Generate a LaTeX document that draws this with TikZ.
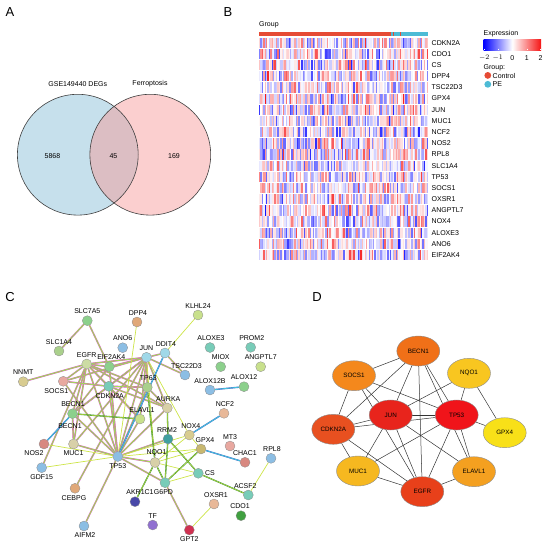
\documentclass[tikz,border=0pt]{standalone}
\usepackage{fontspec}
\setmainfont{Liberation Sans}
\usetikzlibrary{shapes.geometric,backgrounds}
% venn
\definecolor{vennblue}{RGB}{198,224,236}
\definecolor{vennpink}{RGB}{251,207,207}
\definecolor{vennmix}{RGB}{220,190,195}
% heatmap
\definecolor{hmblue}{RGB}{0,0,255}
\definecolor{hmred}{RGB}{245,20,20}
\definecolor{ctrlred}{RGB}{230,75,53}
\definecolor{peteal}{RGB}{77,187,213}
% string edges
\definecolor{strMagenta}{RGB}{214,80,214}
\definecolor{strGreen}{RGB}{110,200,110}
\definecolor{strYellow}{RGB}{205,228,70}
\definecolor{strCyan}{RGB}{64,200,220}
\definecolor{strBlue}{RGB}{80,96,200}
\definecolor{strDGreen}{RGB}{48,140,48}
% string nodes
\definecolor{cGreen}{RGB}{140,208,140}
\definecolor{cLGreen}{RGB}{170,208,140}
\definecolor{cTan}{RGB}{224,168,120}
\definecolor{cYGreen}{RGB}{200,224,140}
\definecolor{cLBlue}{RGB}{140,190,228}
\definecolor{cCyan}{RGB}{160,216,232}
\definecolor{cTeal}{RGB}{120,204,184}
\definecolor{cPale}{RGB}{204,220,164}
\definecolor{cKhaki}{RGB}{216,204,144}
\definecolor{cPink}{RGB}{232,168,160}
\definecolor{cBeige}{RGB}{216,208,168}
\definecolor{cSalmon}{RGB}{216,136,128}
\definecolor{cOlive}{RGB}{200,184,112}
\definecolor{cDTeal}{RGB}{64,160,160}
\definecolor{cNavy}{RGB}{72,72,168}
\definecolor{cDGreen}{RGB}{64,160,64}
\definecolor{cPurple}{RGB}{144,112,208}
\definecolor{cRed}{RGB}{208,48,80}
\definecolor{cPeach}{RGB}{232,184,152}
% hubs
\definecolor{dJUN}{RGB}{232,36,28}
\definecolor{dTP53}{RGB}{240,20,26}
\definecolor{dEGFR}{RGB}{232,64,26}
\definecolor{dCDKN2A}{RGB}{232,80,32}
\definecolor{dBECN1}{RGB}{240,112,24}
\definecolor{dSOCS1}{RGB}{244,136,28}
\definecolor{dELAVL1}{RGB}{244,160,32}
\definecolor{dMUC1}{RGB}{246,184,32}
\definecolor{dNQO1}{RGB}{248,198,32}
\definecolor{dGPX4}{RGB}{248,224,24}
\newcommand{\labelfont}{\fontsize{7}{8}\selectfont}
\newcommand{\panelfont}{\fontsize{13}{13}\selectfont}
\newcommand{\hmleft}{259}
\newcommand{\hmtop}{37.6}
\newcommand{\cellw}{1.4083}
\newcommand{\cellh}{11.18}
\newcommand{\vennr}{60.4}
\tikzset{
    panel/.style={font=\panelfont, inner sep=0pt},
    venntext/.style={font=\labelfont, inner sep=0pt},
    vennline/.style={draw=black!75, line width=0.6pt},
    gene/.style={anchor=west, font=\labelfont, inner sep=0pt},
    legtext/.style={anchor=west, font=\labelfont, inner sep=0pt},
    dot/.style={circle, fill=#1, minimum size=6.8pt, inner sep=0pt},
    prot/.style={circle, draw=black!45, line width=0.3pt, minimum size=10pt, inner sep=0pt, fill=#1},
    plabel/.style={font=\labelfont, inner sep=0.5pt},
    ppi/.style={draw=strMagenta, line width=1.6pt,
        postaction={draw=strYellow, line width=0.9pt},
        postaction={draw=strGreen, line width=0.3pt}},
    txtm/.style={draw=strYellow, line width=0.7pt},
    coex/.style={draw=strDGreen, line width=1.3pt, postaction={draw=strYellow, line width=0.5pt}},
    bind/.style={draw=strBlue, line width=1.4pt, postaction={draw=strCyan, line width=0.8pt}},
    hub/.style={ellipse, draw=black!45, line width=0.4pt, minimum width=43pt, minimum height=30pt,
        inner sep=0pt, fill=#1, font=\fontsize{6.3}{7}\selectfont},
    link/.style={draw=black!80, line width=0.5pt}
}

\begin{document}
\begin{tikzpicture}[x=1pt, y=-1pt, label distance=1pt, every label/.style={plabel}]
    \useasboundingbox (0,0) rectangle (548,550);
    % panel letters
    \node[panel] (pA) at (10,12) {A};
    \node[panel] (pB) at (228,12) {B};
    \node[panel] (pC) at (10,297) {C};
    \node[panel] (pD) at (317,297) {D};

    % A: venn
    \fill[vennblue] (77.8,154.7) circle[radius=\vennr];
    \fill[vennpink] (150.3,154.7) circle[radius=\vennr];
    \begin{scope}
        \clip (77.8,154.7) circle[radius=\vennr];
        \fill[vennmix] (150.3,154.7) circle[radius=\vennr];
    \end{scope}
    \draw[vennline] (77.8,154.7) circle[radius=\vennr];
    \draw[vennline] (150.3,154.7) circle[radius=\vennr];
    \node[venntext] (setDEG) at (77.8,84) {GSE149440 DEGs};
    \node[venntext] (setFer) at (150,84) {Ferroptosis};
    \node[venntext] (nDEG) at (52.5,156) {5868};
    \node[venntext] (nBoth) at (113.5,156) {45};
    \node[venntext] (nFer) at (174,156) {169};

    % B: heatmap
    \pgfmathsetseed{4271}
    \node[legtext] (grp) at (259,25) {Group};
    \fill[ctrlred] (\hmleft,32) rectangle (428,36.3);
    \fill[peteal] (389.5,32) rectangle (428,36.3);
    \foreach \c in {93,95,100} {
        \fill[ctrlred] (\hmleft+\c*\cellw,32) rectangle ++(\cellw,4.3);
    }
    \foreach \gene [count=\r from 0] in {CDKN2A,CDO1,CS,DPP4,TSC22D3,GPX4,JUN,MUC1,NCF2,NOS2,RPL8,SLC1A4,TP53,SOCS1,OXSR1,ANGPTL7,NOX4,ALOXE3,ANO6,EIF2AK4} {
        \node[gene] (hm-\gene) at (431.5,\hmtop+\r*\cellh+0.45*\cellh) {\gene};
        \foreach \c in {0,...,119} {
            \pgfmathsetmacro{\val}{max(-1,min(1,(rnd+rnd+rnd-1.5)/1.45))}
            \pgfmathtruncatemacro{\pct}{abs(\val)*100}
            \ifdim\val pt<0pt \colorlet{cellcol}{hmblue!\pct!white}\else\colorlet{cellcol}{hmred!\pct!white}\fi
            \fill[cellcol] (\hmleft+\c*\cellw,\hmtop+\r*\cellh) rectangle ++(\cellw,\cellh-0.9);
        }
    }
    % legend
    \node[legtext] (legExp) at (483.5,34) {Expression};
    \shade[left color=hmblue, right color=hmred, middle color=white] (483.5,39.3) rectangle (541,50);
    \foreach \v/\x in {$-2$/484.3,$-1$/497.7,0/512.2,1/526.7,2/540.5} {
        \draw[white, line width=0.4pt] (\x,48.6) -- (\x,50);
        \node[venntext] at (\x,57.7) {\v};
    }
    \node[legtext] (legGrp) at (483.5,67.5) {Group:};
    \node[dot=ctrlred] (legCtrl) at (487.8,75.4) {};
    \node[legtext] at (492.5,75.6) {Control};
    \node[dot=peteal] (legPE) at (487.8,84.3) {};
    \node[legtext] at (492.5,84.5) {PE};

    % C: string network
    \foreach \n/\x/\y/\col/\pos/\dx in {
        SLC7A5/87.3/320.7/cGreen/above/0, SLC1A4/59/351/cLGreen/above/0,
        DPP4/137/322/cTan/above/1, KLHL24/198/315/cYGreen/above/0,
        ANO6/122.7/347.7/cLBlue/above/0, EGFR/86.7/364/cPale/above/0,
        EIF2AK4/109.3/366.7/cGreen/above/2, JUN/146.5/357.3/cCyan/above/0,
        DDIT4/165/353/cCyan/above/1, TSC22D3/185/375/cLBlue/above/1.5,
        ALOXE3/210/347.5/cTeal/above/1, PROM2/250.7/347.3/cTeal/above/1,
        MIOX/220.7/366.7/cGreen/above/0, ANGPTL7/260.7/366.7/cYGreen/above/0,
        ALOX12B/210/390/cLBlue/above/0, ALOX12/244/386.7/cGreen/above/0,
        NCF2/224/413.3/cPeach/above/1, NNMT/23.3/381.7/cKhaki/above/0,
        SOCS1/63.3/381.3/cPink/below/-7, CDKN2A/108.7/386.3/cTeal/below/1,
        TP63/147.3/387.3/cLGreen/above/1, BECN1/72.5/413.7/cGreen/above/0.5,
        AURKA/167.3/408/cBeige/above/1, ELAVL1/140/419/cYGreen/above/2,
        RRM2/168/439/cDTeal/above/-1, NOX4/189.3/435/cKhaki/above/1.5,
        GPX4/201/449/cOlive/above/4, MT3/230/446/cPink/above/0,
        CHAC1/245/462.3/cSalmon/above/0, RPL8/271/458.3/cLBlue/above/1,
        NOS2/44/444/cSalmon/below/-10, MUC1/73.5/444/cBeige/below/0,
        TP53/117.8/456.5/cLBlue/below/0, NQO1/155/462.5/cBeige/above/1.5,
        CS/198.3/473.3/cTeal/right/0, G6PD/165/482.7/cTeal/below/-1.5,
        GDF15/41.7/467.7/cLBlue/below/0, CEBPG/75/488.3/cTan/below/-1,
        AKR1C1/135/501.7/cNavy/above/5, ACSF2/248.3/495/cTeal/above/-3,
        OXSR1/214/504/cPeach/above/2, CDO1/241/515.7/cDGreen/above/-1,
        TF/152.7/525/cPurple/above/0, GPT2/189.3/530/cRed/below/0,
        AIFM2/84/526/cLBlue/below/1} {
        \node[prot=\col, label={[xshift=\dx pt]\pos:\n}] (c-\n) at (\x,\y) {};
    }
    \node[plabel] (c-BECN1b) at (70,426) {BECN1};
    \begin{pgfonlayer}{background}
        \foreach \a/\b in {SLC7A5/SLC1A4, SLC7A5/EIF2AK4, EGFR/EIF2AK4, EGFR/NNMT, EGFR/SOCS1,
            EGFR/BECN1, EGFR/CDKN2A, EGFR/JUN, EGFR/TP53, EGFR/MUC1, EGFR/TP63, EGFR/AURKA,
            EGFR/ELAVL1, EGFR/GDF15, EIF2AK4/JUN, EIF2AK4/TP53, EIF2AK4/BECN1, JUN/SOCS1,
            JUN/CDKN2A, JUN/BECN1, JUN/TP53, JUN/MUC1, JUN/TP63, JUN/ELAVL1, JUN/TSC22D3,
            JUN/CEBPG, JUN/DDIT4, JUN/AURKA, DDIT4/TSC22D3, TP53/CDKN2A, TP53/BECN1, TP53/MUC1,
            TP53/TP63, TP53/AURKA, TP53/ELAVL1, TP53/RRM2, TP53/NQO1, TP53/G6PD, TP53/AIFM2,
            TP53/SOCS1, BECN1/CDKN2A, BECN1/MUC1, SOCS1/CDKN2A, CDKN2A/TP63, CDKN2A/AURKA,
            CDKN2A/ELAVL1, TP63/AURKA, G6PD/GPT2}
            \draw[ppi] (c-\a) -- (c-\b);
        \foreach \a/\b in {JUN/NQO1, JUN/NOX4, DDIT4/KLHL24, DPP4/TP53, TP53/NOS2, TP53/GDF15,
            TP53/GPX4, TP53/NOX4, NQO1/GPX4, NQO1/NOX4, NQO1/CS, G6PD/CS, GPX4/NOX4,
            ACSF2/RPL8, OXSR1/GPT2}
            \draw[txtm] (c-\a) -- (c-\b);
        \foreach \a/\b in {TP63/NQO1, AURKA/RRM2, RRM2/G6PD, RRM2/CS, NQO1/G6PD, NQO1/AKR1C1,
            G6PD/GPX4, CS/ACSF2, BECN1/ELAVL1}
            \draw[coex] (c-\a) -- (c-\b);
        \foreach \a/\b in {DDIT4/TP53, NOS2/BECN1, GPX4/CHAC1, NOX4/NCF2, ALOX12B/ALOX12}
            \draw[bind] (c-\a) -- (c-\b);
    \end{pgfonlayer}

    % D: hub genes
    \foreach \n/\x/\y in {BECN1/418.3/351, SOCS1/354/375.7, NQO1/469/373.3, JUN/390.7/415,
        TP53/456.7/415, CDKN2A/333.3/429.3, GPX4/504.7/432.7, MUC1/358/471,
        ELAVL1/474/471.7, EGFR/422.3/491.7} {
        \node[hub=d\n] (d-\n) at (\x,\y) {\n};
    }
    \begin{pgfonlayer}{background}
        \foreach \a/\b in {BECN1/SOCS1, BECN1/CDKN2A, BECN1/JUN, BECN1/EGFR, BECN1/TP53,
            BECN1/ELAVL1, SOCS1/CDKN2A, SOCS1/JUN, SOCS1/TP53, SOCS1/EGFR, NQO1/JUN, NQO1/TP53,
            NQO1/GPX4, JUN/TP53, CDKN2A/JUN, CDKN2A/TP53, CDKN2A/MUC1, CDKN2A/EGFR, TP53/GPX4,
            TP53/EGFR, TP53/MUC1, TP53/ELAVL1, JUN/EGFR, JUN/MUC1, JUN/ELAVL1, MUC1/EGFR,
            ELAVL1/EGFR}
            \draw[link] (d-\a) -- (d-\b);
    \end{pgfonlayer}
\end{tikzpicture}
\end{document}
